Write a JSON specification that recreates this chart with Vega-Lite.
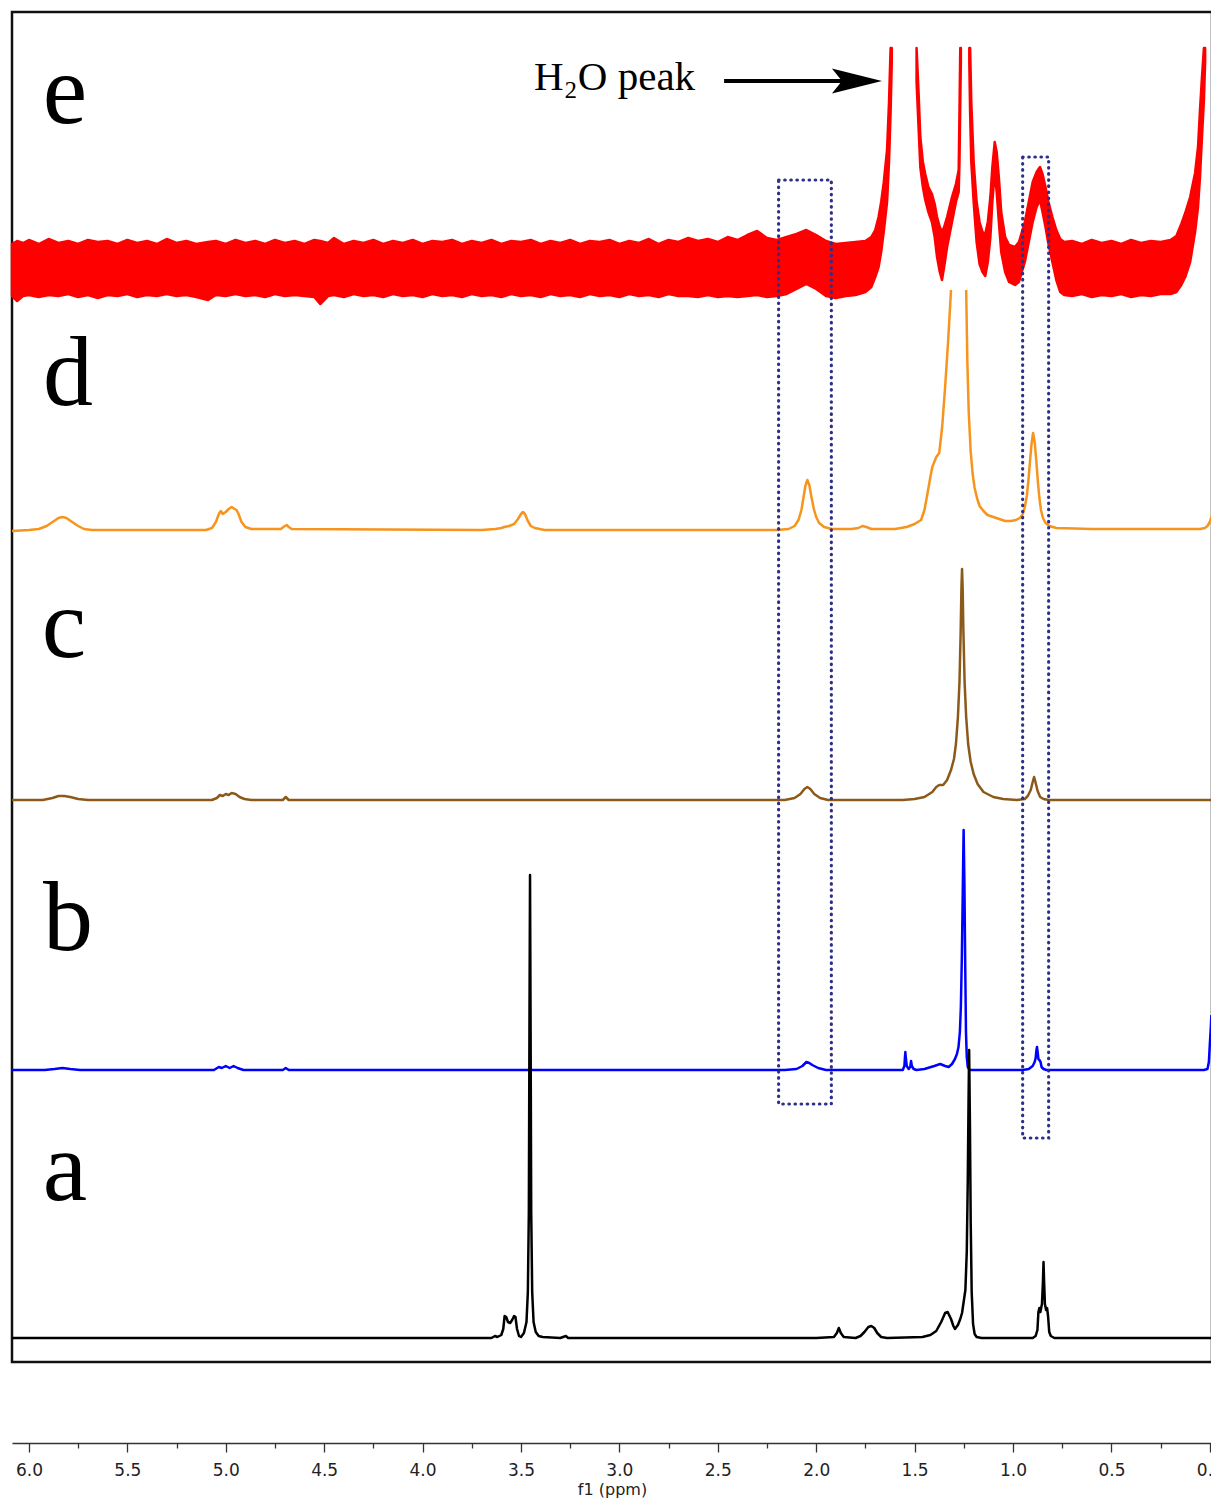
{
  "$schema": "https://vega.github.io/schema/vega-lite/v6.json",
  "width": 1200,
  "height": 1350,
  "padding": {"left": 10, "top": 12, "right": 0, "bottom": 2},
  "background": "white",
  "config": {"view": {"stroke": "#111111", "strokeWidth": 2.5}},
  "encoding": {
    "x": {
      "field": "ppm", "type": "quantitative",
      "scale": {"domain": [-0.011, 6.086], "reverse": true, "nice": false, "zero": false},
      "axis": {
        "title": "f1 (ppm)", "offset": 81, "grid": false,
        "values": [0, 0.25, 0.5, 0.75, 1, 1.25, 1.5, 1.75, 2, 2.25, 2.5, 2.75, 3, 3.25, 3.5, 3.75, 4, 4.25, 4.5, 4.75, 5, 5.25, 5.5, 5.75, 6],
        "labelExpr": "abs(datum.value*2 - round(datum.value*2)) < 0.001 ? format(datum.value, '.1f') : ''",
        "tickSize": {"condition": {"test": "abs(datum.value*2 - round(datum.value*2)) < 0.001", "value": 9}, "value": 5},
        "tickColor": "#333333", "tickWidth": 1.3, "domainColor": "#333333", "domainWidth": 1.5,
        "labelFont": "DejaVu Sans", "labelFontSize": 17, "labelColor": "#222222", "labelPadding": 10, "labelOverlap": false,
        "titleFont": "DejaVu Sans", "titleFontSize": 16, "titleFontWeight": "normal", "titleColor": "#222222", "titlePadding": 3
      }
    },
    "y": {"field": "v", "type": "quantitative", "scale": {"domain": [0, 1350], "nice": false, "zero": false}, "axis": null}
  },
  "layer": [
    {
      "data": {"values": [
        {"g":"e1","ppm":6.086,"v":1118,"v2":1066},{"g":"e1","ppm":6.06,"v":1121,"v2":1061},{"g":"e1","ppm":6.03,"v":1119,"v2":1066},{"g":"e1","ppm":6.0,"v":1122,"v2":1067},{"g":"e1","ppm":5.95,"v":1118,"v2":1065},{"g":"e1","ppm":5.9,"v":1123,"v2":1067},{"g":"e1","ppm":5.85,"v":1119,"v2":1066},{"g":"e1","ppm":5.8,"v":1121,"v2":1068},{"g":"e1","ppm":5.75,"v":1118,"v2":1065},{"g":"e1","ppm":5.7,"v":1122,"v2":1067},{"g":"e1","ppm":5.65,"v":1120,"v2":1064},{"g":"e1","ppm":5.6,"v":1121,"v2":1067},{"g":"e1","ppm":5.55,"v":1118,"v2":1066},{"g":"e1","ppm":5.5,"v":1122,"v2":1068},{"g":"e1","ppm":5.45,"v":1119,"v2":1065},{"g":"e1","ppm":5.4,"v":1121,"v2":1067},{"g":"e1","ppm":5.35,"v":1118,"v2":1066},{"g":"e1","ppm":5.3,"v":1123,"v2":1068},{"g":"e1","ppm":5.25,"v":1119,"v2":1066},{"g":"e1","ppm":5.2,"v":1121,"v2":1067},{"g":"e1","ppm":5.15,"v":1118,"v2":1065},{"g":"e1","ppm":5.09,"v":1120,"v2":1062},{"g":"e1","ppm":5.05,"v":1121,"v2":1067},{"g":"e1","ppm":5.0,"v":1118,"v2":1066},{"g":"e1","ppm":4.95,"v":1122,"v2":1068},{"g":"e1","ppm":4.9,"v":1119,"v2":1066},{"g":"e1","ppm":4.85,"v":1121,"v2":1067},{"g":"e1","ppm":4.8,"v":1118,"v2":1065},{"g":"e1","ppm":4.75,"v":1122,"v2":1068},{"g":"e1","ppm":4.7,"v":1119,"v2":1066},{"g":"e1","ppm":4.65,"v":1121,"v2":1067},{"g":"e1","ppm":4.6,"v":1118,"v2":1066},{"g":"e1","ppm":4.55,"v":1122,"v2":1065},{"g":"e1","ppm":4.52,"v":1121,"v2":1058},{"g":"e1","ppm":4.48,"v":1119,"v2":1066},{"g":"e1","ppm":4.45,"v":1124,"v2":1067},{"g":"e1","ppm":4.4,"v":1118,"v2":1065},{"g":"e1","ppm":4.35,"v":1121,"v2":1068},{"g":"e1","ppm":4.3,"v":1119,"v2":1066},{"g":"e1","ppm":4.25,"v":1122,"v2":1067},{"g":"e1","ppm":4.2,"v":1118,"v2":1065},{"g":"e1","ppm":4.15,"v":1121,"v2":1068},{"g":"e1","ppm":4.1,"v":1119,"v2":1066},{"g":"e1","ppm":4.05,"v":1122,"v2":1067},{"g":"e1","ppm":4.0,"v":1118,"v2":1065},{"g":"e1","ppm":3.95,"v":1121,"v2":1068},{"g":"e1","ppm":3.9,"v":1120,"v2":1066},{"g":"e1","ppm":3.85,"v":1122,"v2":1067},{"g":"e1","ppm":3.8,"v":1118,"v2":1065},{"g":"e1","ppm":3.75,"v":1121,"v2":1068},{"g":"e1","ppm":3.7,"v":1119,"v2":1066},{"g":"e1","ppm":3.65,"v":1122,"v2":1067},{"g":"e1","ppm":3.6,"v":1118,"v2":1065},{"g":"e1","ppm":3.55,"v":1121,"v2":1068},{"g":"e1","ppm":3.5,"v":1120,"v2":1066},{"g":"e1","ppm":3.45,"v":1122,"v2":1067},{"g":"e1","ppm":3.4,"v":1118,"v2":1065},{"g":"e1","ppm":3.35,"v":1121,"v2":1068},{"g":"e1","ppm":3.3,"v":1119,"v2":1066},{"g":"e1","ppm":3.25,"v":1122,"v2":1067},{"g":"e1","ppm":3.2,"v":1118,"v2":1065},{"g":"e1","ppm":3.15,"v":1121,"v2":1068},{"g":"e1","ppm":3.1,"v":1120,"v2":1066},{"g":"e1","ppm":3.05,"v":1122,"v2":1067},{"g":"e1","ppm":3.0,"v":1118,"v2":1065},{"g":"e1","ppm":2.95,"v":1121,"v2":1068},{"g":"e1","ppm":2.9,"v":1119,"v2":1066},{"g":"e1","ppm":2.85,"v":1123,"v2":1067},{"g":"e1","ppm":2.8,"v":1118,"v2":1065},{"g":"e1","ppm":2.75,"v":1122,"v2":1068},{"g":"e1","ppm":2.7,"v":1120,"v2":1066},{"g":"e1","ppm":2.65,"v":1124,"v2":1066},{"g":"e1","ppm":2.6,"v":1121,"v2":1065},{"g":"e1","ppm":2.55,"v":1123,"v2":1067},{"g":"e1","ppm":2.5,"v":1120,"v2":1065},{"g":"e1","ppm":2.45,"v":1125,"v2":1066},{"g":"e1","ppm":2.4,"v":1122,"v2":1065},{"g":"e1","ppm":2.35,"v":1127,"v2":1066},{"g":"e1","ppm":2.3,"v":1131,"v2":1067},{"g":"e1","ppm":2.25,"v":1124,"v2":1065},{"g":"e1","ppm":2.2,"v":1122,"v2":1066},{"g":"e1","ppm":2.15,"v":1125,"v2":1068},{"g":"e1","ppm":2.1,"v":1128,"v2":1073},{"g":"e1","ppm":2.05,"v":1132,"v2":1078},{"g":"e1","ppm":2.0,"v":1127,"v2":1073},{"g":"e1","ppm":1.95,"v":1121,"v2":1066},{"g":"e1","ppm":1.9,"v":1118,"v2":1064},{"g":"e1","ppm":1.85,"v":1119,"v2":1066},{"g":"e1","ppm":1.8,"v":1120,"v2":1067},{"g":"e1","ppm":1.75,"v":1121,"v2":1070},{"g":"e1","ppm":1.72,"v":1125,"v2":1075},{"g":"e1","ppm":1.7,"v":1132,"v2":1085},{"g":"e1","ppm":1.683,"v":1145,"v2":1095},{"g":"e1","ppm":1.67,"v":1160,"v2":1110},{"g":"e1","ppm":1.657,"v":1179,"v2":1130},{"g":"e1","ppm":1.64,"v":1212,"v2":1160},{"g":"e1","ppm":1.63,"v":1260,"v2":1200},{"g":"e1","ppm":1.622,"v":1314,"v2":1250},{"g":"e1","ppm":1.616,"v":1314,"v2":1300},
        {"g":"e2","ppm":1.49,"v":1314,"v2":1280},{"g":"e2","ppm":1.48,"v":1270,"v2":1235},{"g":"e2","ppm":1.471,"v":1225,"v2":1195},{"g":"e2","ppm":1.458,"v":1200,"v2":1175},{"g":"e2","ppm":1.446,"v":1188,"v2":1162},{"g":"e2","ppm":1.43,"v":1175,"v2":1150},{"g":"e2","ppm":1.412,"v":1168,"v2":1140},{"g":"e2","ppm":1.398,"v":1158,"v2":1125},{"g":"e2","ppm":1.386,"v":1145,"v2":1105},{"g":"e2","ppm":1.372,"v":1135,"v2":1090},{"g":"e2","ppm":1.361,"v":1130,"v2":1082},{"g":"e2","ppm":1.35,"v":1135,"v2":1095},{"g":"e2","ppm":1.335,"v":1145,"v2":1115},{"g":"e2","ppm":1.31,"v":1165,"v2":1140},{"g":"e2","ppm":1.29,"v":1178,"v2":1160},{"g":"e2","ppm":1.276,"v":1192,"v2":1170},{"g":"e2","ppm":1.272,"v":1250,"v2":1200},{"g":"e2","ppm":1.268,"v":1314,"v2":1260},{"g":"e2","ppm":1.265,"v":1314,"v2":1300},
        {"g":"e3","ppm":1.222,"v":1314,"v2":1300},{"g":"e3","ppm":1.218,"v":1314,"v2":1250},{"g":"e3","ppm":1.212,"v":1260,"v2":1200},{"g":"e3","ppm":1.2,"v":1200,"v2":1160},{"g":"e3","ppm":1.185,"v":1160,"v2":1120},{"g":"e3","ppm":1.17,"v":1140,"v2":1098},{"g":"e3","ppm":1.155,"v":1130,"v2":1090},{"g":"e3","ppm":1.141,"v":1128,"v2":1086},{"g":"e3","ppm":1.128,"v":1140,"v2":1100},{"g":"e3","ppm":1.115,"v":1165,"v2":1125},{"g":"e3","ppm":1.105,"v":1195,"v2":1160},{"g":"e3","ppm":1.093,"v":1220,"v2":1190},{"g":"e3","ppm":1.083,"v":1210,"v2":1170},{"g":"e3","ppm":1.072,"v":1185,"v2":1140},{"g":"e3","ppm":1.06,"v":1150,"v2":1110},{"g":"e3","ppm":1.04,"v":1125,"v2":1090},{"g":"e3","ppm":1.02,"v":1117,"v2":1080},{"g":"e3","ppm":0.99,"v":1115,"v2":1077},{"g":"e3","ppm":0.97,"v":1120,"v2":1080},{"g":"e3","ppm":0.955,"v":1130,"v2":1090},{"g":"e3","ppm":0.94,"v":1140,"v2":1100},{"g":"e3","ppm":0.92,"v":1160,"v2":1120},{"g":"e3","ppm":0.9,"v":1180,"v2":1140},{"g":"e3","ppm":0.88,"v":1190,"v2":1155},{"g":"e3","ppm":0.863,"v":1195,"v2":1162},{"g":"e3","ppm":0.85,"v":1188,"v2":1150},{"g":"e3","ppm":0.835,"v":1175,"v2":1135},{"g":"e3","ppm":0.82,"v":1160,"v2":1118},{"g":"e3","ppm":0.8,"v":1145,"v2":1100},{"g":"e3","ppm":0.78,"v":1132,"v2":1082},{"g":"e3","ppm":0.76,"v":1123,"v2":1070},{"g":"e3","ppm":0.74,"v":1120,"v2":1067},{"g":"e3","ppm":0.7,"v":1121,"v2":1066},{"g":"e3","ppm":0.65,"v":1118,"v2":1068},{"g":"e3","ppm":0.6,"v":1122,"v2":1065},{"g":"e3","ppm":0.55,"v":1119,"v2":1067},{"g":"e3","ppm":0.5,"v":1121,"v2":1066},{"g":"e3","ppm":0.45,"v":1118,"v2":1068},{"g":"e3","ppm":0.4,"v":1122,"v2":1065},{"g":"e3","ppm":0.35,"v":1119,"v2":1067},{"g":"e3","ppm":0.3,"v":1121,"v2":1066},{"g":"e3","ppm":0.25,"v":1120,"v2":1068},{"g":"e3","ppm":0.2,"v":1122,"v2":1068},{"g":"e3","ppm":0.17,"v":1126,"v2":1070},{"g":"e3","ppm":0.145,"v":1138,"v2":1077},{"g":"e3","ppm":0.125,"v":1149,"v2":1085},{"g":"e3","ppm":0.1,"v":1165,"v2":1100},{"g":"e3","ppm":0.075,"v":1189,"v2":1130},{"g":"e3","ppm":0.06,"v":1215,"v2":1155},{"g":"e3","ppm":0.05,"v":1252,"v2":1185},{"g":"e3","ppm":0.04,"v":1285,"v2":1225},{"g":"e3","ppm":0.03,"v":1314,"v2":1262},{"g":"e3","ppm":0.024,"v":1314,"v2":1300}
      ]},
      "mark": {"type": "area", "color": "#ff0000", "stroke": "#ff0000", "strokeWidth": 2.5, "strokeJoin": "round"},
      "encoding": {"y2": {"field": "v2"}, "detail": {"field": "g"}}
    },
    {
      "data": {"values": [
        {"s":"d","g":"d1","ppm":6.086,"v":831},{"s":"d","g":"d1","ppm":6.0,"v":832},{"s":"d","g":"d1","ppm":5.95,"v":833},{"s":"d","g":"d1","ppm":5.91,"v":836},{"s":"d","g":"d1","ppm":5.88,"v":840},{"s":"d","g":"d1","ppm":5.85,"v":844},{"s":"d","g":"d1","ppm":5.83,"v":845},{"s":"d","g":"d1","ppm":5.81,"v":844},{"s":"d","g":"d1","ppm":5.78,"v":840},{"s":"d","g":"d1","ppm":5.75,"v":836},{"s":"d","g":"d1","ppm":5.72,"v":833},{"s":"d","g":"d1","ppm":5.68,"v":832},{"s":"d","g":"d1","ppm":5.1,"v":832},{"s":"d","g":"d1","ppm":5.07,"v":834},{"s":"d","g":"d1","ppm":5.05,"v":840},{"s":"d","g":"d1","ppm":5.035,"v":848},{"s":"d","g":"d1","ppm":5.025,"v":851},{"s":"d","g":"d1","ppm":5.015,"v":848},{"s":"d","g":"d1","ppm":5.0,"v":850},{"s":"d","g":"d1","ppm":4.985,"v":853},{"s":"d","g":"d1","ppm":4.97,"v":855},{"s":"d","g":"d1","ppm":4.955,"v":853},{"s":"d","g":"d1","ppm":4.945,"v":852},{"s":"d","g":"d1","ppm":4.935,"v":848},{"s":"d","g":"d1","ppm":4.92,"v":840},{"s":"d","g":"d1","ppm":4.9,"v":835},{"s":"d","g":"d1","ppm":4.87,"v":833},{"s":"d","g":"d1","ppm":4.72,"v":833},{"s":"d","g":"d1","ppm":4.7,"v":836},{"s":"d","g":"d1","ppm":4.69,"v":837},{"s":"d","g":"d1","ppm":4.68,"v":835},{"s":"d","g":"d1","ppm":4.665,"v":833},{"s":"d","g":"d1","ppm":3.7,"v":832},{"s":"d","g":"d1","ppm":3.63,"v":833},{"s":"d","g":"d1","ppm":3.6,"v":834},{"s":"d","g":"d1","ppm":3.585,"v":835},{"s":"d","g":"d1","ppm":3.56,"v":836},{"s":"d","g":"d1","ppm":3.535,"v":838},{"s":"d","g":"d1","ppm":3.515,"v":843},{"s":"d","g":"d1","ppm":3.5,"v":848},{"s":"d","g":"d1","ppm":3.49,"v":850},{"s":"d","g":"d1","ppm":3.48,"v":848},{"s":"d","g":"d1","ppm":3.465,"v":841},{"s":"d","g":"d1","ppm":3.45,"v":836},{"s":"d","g":"d1","ppm":3.43,"v":834},{"s":"d","g":"d1","ppm":3.38,"v":832},{"s":"d","g":"d1","ppm":2.2,"v":832},{"s":"d","g":"d1","ppm":2.14,"v":833},{"s":"d","g":"d1","ppm":2.11,"v":836},{"s":"d","g":"d1","ppm":2.09,"v":842},{"s":"d","g":"d1","ppm":2.075,"v":852},{"s":"d","g":"d1","ppm":2.065,"v":864},{"s":"d","g":"d1","ppm":2.055,"v":876},{"s":"d","g":"d1","ppm":2.045,"v":882},{"s":"d","g":"d1","ppm":2.035,"v":877},{"s":"d","g":"d1","ppm":2.025,"v":866},{"s":"d","g":"d1","ppm":2.012,"v":853},{"s":"d","g":"d1","ppm":2.0,"v":845},{"s":"d","g":"d1","ppm":1.985,"v":839},{"s":"d","g":"d1","ppm":1.96,"v":835},{"s":"d","g":"d1","ppm":1.92,"v":833},{"s":"d","g":"d1","ppm":1.82,"v":833},{"s":"d","g":"d1","ppm":1.785,"v":834},{"s":"d","g":"d1","ppm":1.765,"v":836},{"s":"d","g":"d1","ppm":1.745,"v":835},{"s":"d","g":"d1","ppm":1.72,"v":833},{"s":"d","g":"d1","ppm":1.6,"v":833},{"s":"d","g":"d1","ppm":1.54,"v":835},{"s":"d","g":"d1","ppm":1.5,"v":838},{"s":"d","g":"d1","ppm":1.467,"v":842},{"s":"d","g":"d1","ppm":1.45,"v":852},{"s":"d","g":"d1","ppm":1.435,"v":868},{"s":"d","g":"d1","ppm":1.42,"v":885},{"s":"d","g":"d1","ppm":1.41,"v":895},{"s":"d","g":"d1","ppm":1.39,"v":905},{"s":"d","g":"d1","ppm":1.375,"v":909},{"s":"d","g":"d1","ppm":1.36,"v":935},{"s":"d","g":"d1","ppm":1.345,"v":975},{"s":"d","g":"d1","ppm":1.33,"v":1020},{"s":"d","g":"d1","ppm":1.315,"v":1072},
        {"s":"d","g":"d2","ppm":1.238,"v":1072},{"s":"d","g":"d2","ppm":1.232,"v":1000},{"s":"d","g":"d2","ppm":1.225,"v":950},{"s":"d","g":"d2","ppm":1.215,"v":910},{"s":"d","g":"d2","ppm":1.205,"v":888},{"s":"d","g":"d2","ppm":1.195,"v":874},{"s":"d","g":"d2","ppm":1.183,"v":864},{"s":"d","g":"d2","ppm":1.17,"v":856},{"s":"d","g":"d2","ppm":1.15,"v":851},{"s":"d","g":"d2","ppm":1.13,"v":847},{"s":"d","g":"d2","ppm":1.1,"v":845},{"s":"d","g":"d2","ppm":1.07,"v":843},{"s":"d","g":"d2","ppm":1.04,"v":841},{"s":"d","g":"d2","ppm":1.01,"v":841},{"s":"d","g":"d2","ppm":0.985,"v":842},{"s":"d","g":"d2","ppm":0.965,"v":844},{"s":"d","g":"d2","ppm":0.95,"v":848},{"s":"d","g":"d2","ppm":0.94,"v":855},{"s":"d","g":"d2","ppm":0.93,"v":866},{"s":"d","g":"d2","ppm":0.922,"v":881},{"s":"d","g":"d2","ppm":0.914,"v":900},{"s":"d","g":"d2","ppm":0.906,"v":918},{"s":"d","g":"d2","ppm":0.898,"v":929},{"s":"d","g":"d2","ppm":0.89,"v":920},{"s":"d","g":"d2","ppm":0.882,"v":902},{"s":"d","g":"d2","ppm":0.874,"v":881},{"s":"d","g":"d2","ppm":0.866,"v":864},{"s":"d","g":"d2","ppm":0.858,"v":852},{"s":"d","g":"d2","ppm":0.848,"v":844},{"s":"d","g":"d2","ppm":0.835,"v":839},{"s":"d","g":"d2","ppm":0.815,"v":836},{"s":"d","g":"d2","ppm":0.78,"v":834},{"s":"d","g":"d2","ppm":0.6,"v":833},{"s":"d","g":"d2","ppm":0.3,"v":833},{"s":"d","g":"d2","ppm":0.05,"v":833},{"s":"d","g":"d2","ppm":0.025,"v":834},{"s":"d","g":"d2","ppm":0.012,"v":836},{"s":"d","g":"d2","ppm":0.0,"v":840},{"s":"d","g":"d2","ppm":-0.006,"v":844},{"s":"d","g":"d2","ppm":-0.011,"v":846},
        {"s":"c","g":"c","ppm":6.086,"v":562},{"s":"c","g":"c","ppm":5.93,"v":562},{"s":"c","g":"c","ppm":5.88,"v":564},{"s":"c","g":"c","ppm":5.85,"v":566},{"s":"c","g":"c","ppm":5.82,"v":566},{"s":"c","g":"c","ppm":5.79,"v":565},{"s":"c","g":"c","ppm":5.75,"v":563},{"s":"c","g":"c","ppm":5.7,"v":562},{"s":"c","g":"c","ppm":5.07,"v":562},{"s":"c","g":"c","ppm":5.045,"v":564},{"s":"c","g":"c","ppm":5.03,"v":567},{"s":"c","g":"c","ppm":5.015,"v":566},{"s":"c","g":"c","ppm":5.0,"v":568},{"s":"c","g":"c","ppm":4.985,"v":567},{"s":"c","g":"c","ppm":4.97,"v":569},{"s":"c","g":"c","ppm":4.95,"v":568},{"s":"c","g":"c","ppm":4.93,"v":565},{"s":"c","g":"c","ppm":4.905,"v":563},{"s":"c","g":"c","ppm":4.87,"v":562},{"s":"c","g":"c","ppm":4.71,"v":562},{"s":"c","g":"c","ppm":4.695,"v":565},{"s":"c","g":"c","ppm":4.68,"v":562},{"s":"c","g":"c","ppm":2.16,"v":562},{"s":"c","g":"c","ppm":2.11,"v":564},{"s":"c","g":"c","ppm":2.08,"v":568},{"s":"c","g":"c","ppm":2.06,"v":573},{"s":"c","g":"c","ppm":2.045,"v":575},{"s":"c","g":"c","ppm":2.03,"v":573},{"s":"c","g":"c","ppm":2.01,"v":568},{"s":"c","g":"c","ppm":1.98,"v":564},{"s":"c","g":"c","ppm":1.94,"v":562},{"s":"c","g":"c","ppm":1.56,"v":562},{"s":"c","g":"c","ppm":1.5,"v":563},{"s":"c","g":"c","ppm":1.45,"v":565},{"s":"c","g":"c","ppm":1.41,"v":570},{"s":"c","g":"c","ppm":1.39,"v":575},{"s":"c","g":"c","ppm":1.375,"v":577},{"s":"c","g":"c","ppm":1.355,"v":577},{"s":"c","g":"c","ppm":1.335,"v":582},{"s":"c","g":"c","ppm":1.315,"v":592},{"s":"c","g":"c","ppm":1.3,"v":603},{"s":"c","g":"c","ppm":1.29,"v":618},{"s":"c","g":"c","ppm":1.28,"v":645},{"s":"c","g":"c","ppm":1.272,"v":680},{"s":"c","g":"c","ppm":1.266,"v":730},{"s":"c","g":"c","ppm":1.262,"v":775},{"s":"c","g":"c","ppm":1.259,"v":793},{"s":"c","g":"c","ppm":1.256,"v":775},{"s":"c","g":"c","ppm":1.252,"v":730},{"s":"c","g":"c","ppm":1.246,"v":680},{"s":"c","g":"c","ppm":1.238,"v":645},{"s":"c","g":"c","ppm":1.228,"v":618},{"s":"c","g":"c","ppm":1.215,"v":600},{"s":"c","g":"c","ppm":1.2,"v":588},{"s":"c","g":"c","ppm":1.18,"v":578},{"s":"c","g":"c","ppm":1.15,"v":570},{"s":"c","g":"c","ppm":1.1,"v":565},{"s":"c","g":"c","ppm":1.05,"v":563},{"s":"c","g":"c","ppm":0.98,"v":562},{"s":"c","g":"c","ppm":0.94,"v":563},{"s":"c","g":"c","ppm":0.925,"v":566},{"s":"c","g":"c","ppm":0.91,"v":572},{"s":"c","g":"c","ppm":0.9,"v":580},{"s":"c","g":"c","ppm":0.893,"v":585},{"s":"c","g":"c","ppm":0.886,"v":580},{"s":"c","g":"c","ppm":0.875,"v":571},{"s":"c","g":"c","ppm":0.862,"v":565},{"s":"c","g":"c","ppm":0.845,"v":563},{"s":"c","g":"c","ppm":0.82,"v":562},{"s":"c","g":"c","ppm":-0.011,"v":562},
        {"s":"b","g":"b","ppm":6.086,"v":292},{"s":"b","g":"b","ppm":5.92,"v":292},{"s":"b","g":"b","ppm":5.87,"v":293},{"s":"b","g":"b","ppm":5.83,"v":294},{"s":"b","g":"b","ppm":5.79,"v":293},{"s":"b","g":"b","ppm":5.74,"v":292},{"s":"b","g":"b","ppm":5.06,"v":292},{"s":"b","g":"b","ppm":5.035,"v":295},{"s":"b","g":"b","ppm":5.02,"v":294},{"s":"b","g":"b","ppm":5.0,"v":296},{"s":"b","g":"b","ppm":4.98,"v":294},{"s":"b","g":"b","ppm":4.96,"v":296},{"s":"b","g":"b","ppm":4.94,"v":294},{"s":"b","g":"b","ppm":4.91,"v":292},{"s":"b","g":"b","ppm":4.71,"v":292},{"s":"b","g":"b","ppm":4.695,"v":294},{"s":"b","g":"b","ppm":4.68,"v":292},{"s":"b","g":"b","ppm":2.16,"v":292},{"s":"b","g":"b","ppm":2.1,"v":293},{"s":"b","g":"b","ppm":2.07,"v":296},{"s":"b","g":"b","ppm":2.05,"v":300},{"s":"b","g":"b","ppm":2.035,"v":299},{"s":"b","g":"b","ppm":2.02,"v":297},{"s":"b","g":"b","ppm":1.99,"v":294},{"s":"b","g":"b","ppm":1.95,"v":292},{"s":"b","g":"b","ppm":1.56,"v":292},{"s":"b","g":"b","ppm":1.552,"v":296},{"s":"b","g":"b","ppm":1.549,"v":305},{"s":"b","g":"b","ppm":1.547,"v":310},{"s":"b","g":"b","ppm":1.545,"v":305},{"s":"b","g":"b","ppm":1.54,"v":296},{"s":"b","g":"b","ppm":1.53,"v":293},{"s":"b","g":"b","ppm":1.522,"v":295},{"s":"b","g":"b","ppm":1.518,"v":301},{"s":"b","g":"b","ppm":1.514,"v":296},{"s":"b","g":"b","ppm":1.505,"v":293},{"s":"b","g":"b","ppm":1.49,"v":292},{"s":"b","g":"b","ppm":1.45,"v":293},{"s":"b","g":"b","ppm":1.4,"v":296},{"s":"b","g":"b","ppm":1.37,"v":298},{"s":"b","g":"b","ppm":1.345,"v":296},{"s":"b","g":"b","ppm":1.327,"v":295},{"s":"b","g":"b","ppm":1.31,"v":298},{"s":"b","g":"b","ppm":1.295,"v":303},{"s":"b","g":"b","ppm":1.285,"v":308},{"s":"b","g":"b","ppm":1.277,"v":315},{"s":"b","g":"b","ppm":1.27,"v":330},{"s":"b","g":"b","ppm":1.265,"v":355},{"s":"b","g":"b","ppm":1.26,"v":405},{"s":"b","g":"b","ppm":1.255,"v":475},{"s":"b","g":"b","ppm":1.251,"v":532},{"s":"b","g":"b","ppm":1.247,"v":480},{"s":"b","g":"b","ppm":1.243,"v":400},{"s":"b","g":"b","ppm":1.239,"v":330},{"s":"b","g":"b","ppm":1.235,"v":305},{"s":"b","g":"b","ppm":1.23,"v":295},{"s":"b","g":"b","ppm":1.22,"v":292},{"s":"b","g":"b","ppm":0.95,"v":292},{"s":"b","g":"b","ppm":0.92,"v":293},{"s":"b","g":"b","ppm":0.9,"v":296},{"s":"b","g":"b","ppm":0.89,"v":300},{"s":"b","g":"b","ppm":0.885,"v":304},{"s":"b","g":"b","ppm":0.881,"v":312},{"s":"b","g":"b","ppm":0.878,"v":315},{"s":"b","g":"b","ppm":0.875,"v":310},{"s":"b","g":"b","ppm":0.871,"v":303},{"s":"b","g":"b","ppm":0.866,"v":302},{"s":"b","g":"b","ppm":0.86,"v":300},{"s":"b","g":"b","ppm":0.855,"v":295},{"s":"b","g":"b","ppm":0.845,"v":293},{"s":"b","g":"b","ppm":0.83,"v":292},{"s":"b","g":"b","ppm":0.03,"v":292},{"s":"b","g":"b","ppm":0.012,"v":293},{"s":"b","g":"b","ppm":0.005,"v":300},{"s":"b","g":"b","ppm":0.0,"v":318},{"s":"b","g":"b","ppm":-0.005,"v":335},{"s":"b","g":"b","ppm":-0.008,"v":347},
        {"s":"a","g":"a","ppm":6.086,"v":24},{"s":"a","g":"a","ppm":5.0,"v":24},{"s":"a","g":"a","ppm":4.0,"v":24},{"s":"a","g":"a","ppm":3.65,"v":24},{"s":"a","g":"a","ppm":3.632,"v":26},{"s":"a","g":"a","ppm":3.62,"v":25},{"s":"a","g":"a","ppm":3.6,"v":27},{"s":"a","g":"a","ppm":3.59,"v":33},{"s":"a","g":"a","ppm":3.583,"v":46},{"s":"a","g":"a","ppm":3.575,"v":45},{"s":"a","g":"a","ppm":3.566,"v":40},{"s":"a","g":"a","ppm":3.555,"v":39},{"s":"a","g":"a","ppm":3.545,"v":42},{"s":"a","g":"a","ppm":3.535,"v":46},{"s":"a","g":"a","ppm":3.528,"v":45},{"s":"a","g":"a","ppm":3.52,"v":33},{"s":"a","g":"a","ppm":3.51,"v":26},{"s":"a","g":"a","ppm":3.5,"v":25},{"s":"a","g":"a","ppm":3.485,"v":29},{"s":"a","g":"a","ppm":3.472,"v":40},{"s":"a","g":"a","ppm":3.465,"v":70},{"s":"a","g":"a","ppm":3.46,"v":150},{"s":"a","g":"a","ppm":3.457,"v":330},{"s":"a","g":"a","ppm":3.454,"v":487},{"s":"a","g":"a","ppm":3.451,"v":330},{"s":"a","g":"a","ppm":3.448,"v":150},{"s":"a","g":"a","ppm":3.443,"v":70},{"s":"a","g":"a","ppm":3.436,"v":40},{"s":"a","g":"a","ppm":3.425,"v":30},{"s":"a","g":"a","ppm":3.41,"v":26},{"s":"a","g":"a","ppm":3.39,"v":25},{"s":"a","g":"a","ppm":3.3,"v":24},{"s":"a","g":"a","ppm":3.272,"v":26},{"s":"a","g":"a","ppm":3.26,"v":24},{"s":"a","g":"a","ppm":2.0,"v":24},{"s":"a","g":"a","ppm":1.91,"v":25},{"s":"a","g":"a","ppm":1.895,"v":29},{"s":"a","g":"a","ppm":1.885,"v":34},{"s":"a","g":"a","ppm":1.875,"v":29},{"s":"a","g":"a","ppm":1.86,"v":25},{"s":"a","g":"a","ppm":1.8,"v":24},{"s":"a","g":"a","ppm":1.775,"v":26},{"s":"a","g":"a","ppm":1.755,"v":30},{"s":"a","g":"a","ppm":1.735,"v":35},{"s":"a","g":"a","ppm":1.72,"v":36},{"s":"a","g":"a","ppm":1.705,"v":34},{"s":"a","g":"a","ppm":1.69,"v":29},{"s":"a","g":"a","ppm":1.67,"v":25},{"s":"a","g":"a","ppm":1.64,"v":24},{"s":"a","g":"a","ppm":1.46,"v":25},{"s":"a","g":"a","ppm":1.42,"v":27},{"s":"a","g":"a","ppm":1.39,"v":31},{"s":"a","g":"a","ppm":1.365,"v":40},{"s":"a","g":"a","ppm":1.345,"v":49},{"s":"a","g":"a","ppm":1.332,"v":50},{"s":"a","g":"a","ppm":1.315,"v":43},{"s":"a","g":"a","ppm":1.303,"v":36},{"s":"a","g":"a","ppm":1.295,"v":33},{"s":"a","g":"a","ppm":1.28,"v":37},{"s":"a","g":"a","ppm":1.268,"v":43},{"s":"a","g":"a","ppm":1.259,"v":49},{"s":"a","g":"a","ppm":1.242,"v":72},{"s":"a","g":"a","ppm":1.235,"v":110},{"s":"a","g":"a","ppm":1.23,"v":180},{"s":"a","g":"a","ppm":1.226,"v":260},{"s":"a","g":"a","ppm":1.223,"v":312},{"s":"a","g":"a","ppm":1.219,"v":240},{"s":"a","g":"a","ppm":1.215,"v":140},{"s":"a","g":"a","ppm":1.21,"v":70},{"s":"a","g":"a","ppm":1.203,"v":38},{"s":"a","g":"a","ppm":1.195,"v":28},{"s":"a","g":"a","ppm":1.185,"v":25},{"s":"a","g":"a","ppm":1.16,"v":24},{"s":"a","g":"a","ppm":0.9,"v":24},{"s":"a","g":"a","ppm":0.885,"v":26},{"s":"a","g":"a","ppm":0.876,"v":32},{"s":"a","g":"a","ppm":0.871,"v":50},{"s":"a","g":"a","ppm":0.866,"v":54},{"s":"a","g":"a","ppm":0.861,"v":50},{"s":"a","g":"a","ppm":0.853,"v":58},{"s":"a","g":"a","ppm":0.848,"v":80},{"s":"a","g":"a","ppm":0.845,"v":100},{"s":"a","g":"a","ppm":0.842,"v":80},{"s":"a","g":"a","ppm":0.838,"v":58},{"s":"a","g":"a","ppm":0.832,"v":52},{"s":"a","g":"a","ppm":0.827,"v":54},{"s":"a","g":"a","ppm":0.822,"v":46},{"s":"a","g":"a","ppm":0.816,"v":30},{"s":"a","g":"a","ppm":0.808,"v":26},{"s":"a","g":"a","ppm":0.79,"v":24},{"s":"a","g":"a","ppm":-0.011,"v":24}
      ]},
      "mark": {"type": "line", "strokeWidth": 2.5, "strokeJoin": "round"},
      "encoding": {
        "color": {"field": "s", "type": "nominal", "scale": {"domain": ["d", "c", "b", "a"], "range": ["#f7941d", "#8b5a1b", "#0000ff", "#000000"]}, "legend": null},
        "detail": {"field": "g"}
      }
    },
    {
      "data": {"values": [
        {"ppm": 5.817, "v": 1239, "t": "e"},
        {"ppm": 5.802, "v": 957, "t": "d"},
        {"ppm": 5.822, "v": 705, "t": "c"},
        {"ppm": 5.802, "v": 412, "t": "b"},
        {"ppm": 5.817, "v": 162, "t": "a"}
      ]},
      "mark": {"type": "text", "font": "Liberation Serif", "fontSize": 100, "align": "center", "baseline": "alphabetic", "color": "#000000"},
      "encoding": {"text": {"field": "t"}}
    },
    {
      "data": {"values": [{"ppm": 3.434, "v": 1272, "t": "H₂O peak"}]},
      "mark": {"type": "text", "font": "Liberation Serif", "fontSize": 41, "align": "left", "baseline": "alphabetic", "color": "#000000"},
      "encoding": {"text": {"field": "t"}}
    },
    {
      "data": {"values": [{"ppm": 2.468, "ppm2": 1.82, "v": 1281}]},
      "mark": {"type": "rule", "strokeWidth": 4, "color": "#000000"},
      "encoding": {"x2": {"field": "ppm2"}}
    },
    {
      "data": {"values": [{"ppm": 1.793, "v": 1281}]},
      "mark": {"type": "point", "shape": "M1,0 L-1,-0.5 L-0.6,0 L-1,0.5 Z", "size": 2500, "filled": true, "color": "#000000", "opacity": 1},
      "encoding": {}
    },
    {
      "data": {"values": [
        {"ppm": 2.191, "ppm2": 1.923, "v": 258, "v2": 1182},
        {"ppm": 0.951, "ppm2": 0.819, "v": 224, "v2": 1205}
      ]},
      "mark": {"type": "rect", "fillOpacity": 0, "stroke": "#2e2f8a", "strokeWidth": 3.2, "strokeDash": [0.5, 5.6], "strokeCap": "round"},
      "encoding": {"x2": {"field": "ppm2"}, "y2": {"field": "v2"}}
    }
  ]
}
